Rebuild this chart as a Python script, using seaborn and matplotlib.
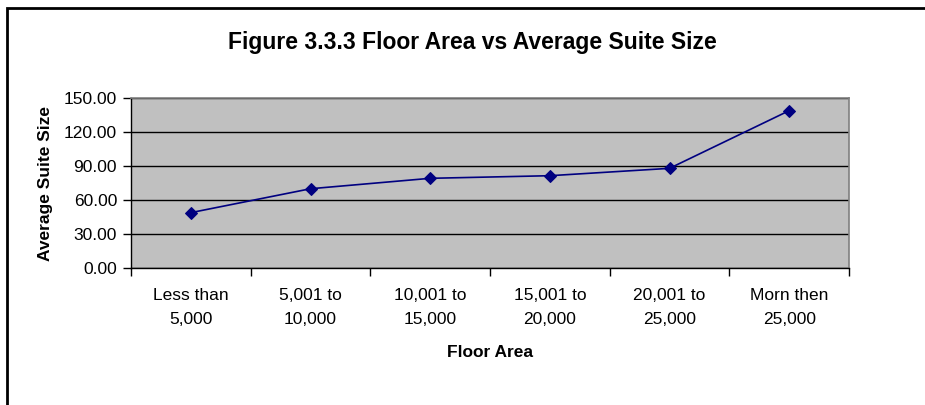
import matplotlib
matplotlib.use("Agg")
import matplotlib.pyplot as plt
from matplotlib.patches import Rectangle
from matplotlib.ticker import FixedLocator, FormatStrFormatter
import seaborn as sns
import pandas as pd

# Floor area bands and average suite size for each band
floor_area = ["Less than\n5,000", "5,001 to\n10,000", "10,001 to\n15,000",
              "15,001 to\n20,000", "20,001 to\n25,000", "Morn then\n25,000"]
avg_suite_size = [49.1, 70.2, 79.4, 81.7, 88.2, 139.1]
y_ticks = [0, 30, 60, 90, 120, 150]

df = pd.DataFrame({"Floor Area": floor_area, "Average Suite Size": avg_suite_size})

sns.set_theme(style="white")
plt.rcParams["font.family"] = ["Liberation Sans", "DejaVu Sans"]
plt.rcParams.update({"text.color": "black", "axes.labelcolor": "black",
                     "xtick.color": "black", "ytick.color": "black"})

fig = plt.figure(figsize=(9.25, 4.05), dpi=100)
ax = fig.add_axes([131 / 925, 1 - 268.3 / 405, (849 - 131) / 925, (268.3 - 98.3) / 405])
ax.set_facecolor("#C0C0C0")

sns.lineplot(data=df, x="Floor Area", y="Average Suite Size", ax=ax,
             color="#000080", marker="D", markersize=6.5, linewidth=1.2,
             markeredgecolor="#000080", sort=False, zorder=3)

ax.set_xlim(-0.5, len(floor_area) - 0.5)
ax.set_ylim(0, 150)

# Category boundaries carry tick marks; labels sit centred between them
ax.xaxis.set_major_locator(FixedLocator([i - 0.5 for i in range(len(floor_area) + 1)]))
ax.xaxis.set_minor_locator(FixedLocator(list(range(len(floor_area)))))
ax.set_xticklabels([], minor=False)
ax.set_xticklabels(floor_area, minor=True, fontsize=12.5, linespacing=1.75)
ax.tick_params(axis="x", which="major", direction="out", length=6, width=1, color="black", bottom=True)
ax.tick_params(axis="x", which="minor", length=0, pad=14)

ax.set_yticks(y_ticks)
ax.yaxis.set_major_formatter(FormatStrFormatter("%.2f"))
ax.tick_params(axis="y", direction="out", length=6, width=1, color="black", left=True, labelsize=12.5, pad=4)

ax.grid(axis="y", color="black", linewidth=1, zorder=1)
ax.set_axisbelow(True)

for side in ["top", "right"]:
    ax.spines[side].set_color("#808080")
    ax.spines[side].set_linewidth(1.2)
for side in ["left", "bottom"]:
    ax.spines[side].set_color("black")
    ax.spines[side].set_linewidth(1)

ax.set_xlabel("Floor Area", fontsize=12.5, fontweight="bold", labelpad=13)
ax.set_ylabel("Average Suite Size", fontsize=12.5, fontweight="bold", labelpad=8)

fig.text(472 / 925, 1 - 42 / 405, "Figure 3.3.3 Floor Area vs Average Suite Size",
         ha="center", va="center", fontsize=16.5, fontweight="bold")

# Chart frame (runs off the right and bottom edges)
fig.patches.append(Rectangle((7 / 925, -0.05), 1.0, 1 - 8 / 405 + 0.05,
                             transform=fig.transFigure, fill=False,
                             edgecolor="black", linewidth=2))

fig.savefig("out.png", dpi=100)
